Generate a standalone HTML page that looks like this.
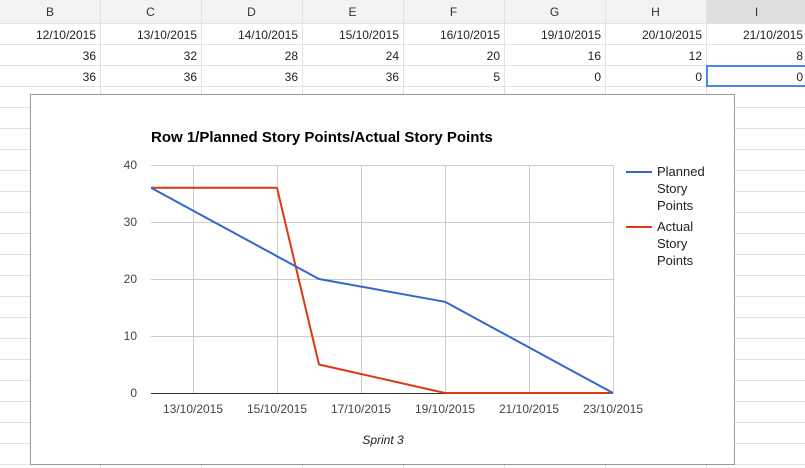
<!DOCTYPE html>
<html><head><meta charset="utf-8"><style>
body{margin:0;width:805px;height:468px;overflow:hidden;background:#fff;font-family:"Liberation Sans",sans-serif}
svg{display:block}
</style></head><body>
<svg id="s" width="805" height="468" xmlns="http://www.w3.org/2000/svg"></svg>
<script>
const categories=["12/10/2015","13/10/2015","14/10/2015","15/10/2015","16/10/2015","19/10/2015","20/10/2015","21/10/2015","22/10/2015","23/10/2015"];
const dayOffsets=[0,1,2,3,4,7,8,9,10,11];
const planned=[36,32,28,24,20,16,12,8,4,0];
const actual=[36,36,36,36,5,0,0,0,0,0];
const yTicks=[0,10,20,30,40];
const xTickLabels=["13/10/2015","15/10/2015","17/10/2015","19/10/2015","21/10/2015","23/10/2015"];
const xTickDays=[1,3,5,7,9,11];
const colLetters=["B","C","D","E","F","G","H","I"];

const s=document.getElementById('s');
const NS="http://www.w3.org/2000/svg";
function mk(t,a,p){const e=document.createElementNS(NS,t);for(const k in a)e.setAttribute(k,a[k]);(p||s).appendChild(e);return e;}

// spreadsheet grid
const colX=[0,100,201,302,403,504,605,706,807];
let hdr=mk('rect',{x:0,y:0,width:805,height:23,fill:'#f3f3f3'});


let sel=mk('rect',{x:706,y:0,width:99,height:23,fill:'#dedede'});


for(let y=23;y<468;y+=21){mk('line',{x1:0,x2:805,y1:y+0.5,y2:y+0.5,stroke:'#e2e2e2'});}
for(let i=1;i<colX.length-1;i++){mk('line',{x1:colX[i]+0.5,x2:colX[i]+0.5,y1:0,y2:468,stroke:'#e2e2e2'});}
colLetters.forEach((c,i)=>{const t=mk('text',{x:(colX[i]+colX[i+1])/2,y:16,'text-anchor':'middle','font-size':12,fill:'#333'});t.textContent=c;

});
const rows=[categories.slice(0,8),planned.slice(0,8),actual.slice(0,8)];
rows.forEach((r,ri)=>r.forEach((v,ci)=>{const t=mk('text',{x:colX[ci+1]-4,y:39+ri*21,'text-anchor':'end','font-size':12,fill:'#222'});t.textContent=v;

}));
let cur=mk('rect',{x:707,y:66,width:100,height:20,fill:'none',stroke:'#4a86e8','stroke-width':2});



// chart box
let box=mk('rect',{x:30.5,y:94.5,width:704,height:370,fill:'#fff',stroke:'#999'});


const X0=151,X1=613,Y0=393,Y1=165;
const xs=d=>X0+d/11*(X1-X0);
const ys=v=>Y0-v/40*(Y0-Y1);
let title=mk('text',{x:151,y:142,'font-size':15,'font-weight':'bold',fill:'#000'});
title.textContent="Row 1/Planned Story Points/Actual Story Points";


yTicks.forEach(v=>{mk('line',{x1:X0,x2:X1,y1:ys(v)+0.5,y2:ys(v)+0.5,stroke:v===0?'#333':'#ccc'});
const t=mk('text',{x:137,y:ys(v)+4,'text-anchor':'end','font-size':12,fill:'#444'});t.textContent=v;

});
xTickDays.forEach((d,i)=>{mk('line',{x1:xs(d)+0.5,x2:xs(d)+0.5,y1:Y1,y2:Y0,stroke:'#ccc'});
const t=mk('text',{x:xs(d),y:413,'text-anchor':'middle','font-size':12,fill:'#444'});t.textContent=xTickLabels[i];

});
mk('line',{x1:X0,x2:X1,y1:Y0+0.5,y2:Y0+0.5,stroke:'#333'});
function series(vals,color,name){const pts=vals.map((v,i)=>xs(dayOffsets[i])+','+ys(v)).join(' ');
const p=mk('polyline',{points:pts,fill:'none',stroke:color,'stroke-width':2,'stroke-linejoin':'round'});

}
series(actual,'#dc3912','actual-story-points-line');
series(planned,'#3366cc','planned-story-points-line');
// legend
[['#3366cc',['Planned','Story','Points'],172,'legend-planned'],['#dc3912',['Actual','Story','Points'],227,'legend-actual']].forEach(([c,lines,y,n])=>{
const g=mk('g',{});
mk('line',{x1:626,x2:652,y1:y,y2:y,stroke:c,'stroke-width':2},g);
lines.forEach((l,i)=>{const t=mk('text',{x:657,y:y+4+i*17,'font-size':13,fill:'#222'},g);t.textContent=l;});});
let xt=mk('text',{x:383,y:444,'text-anchor':'middle','font-size':12,'font-style':'italic',fill:'#222'});
xt.textContent="Sprint 3";


</script>
</body></html>
